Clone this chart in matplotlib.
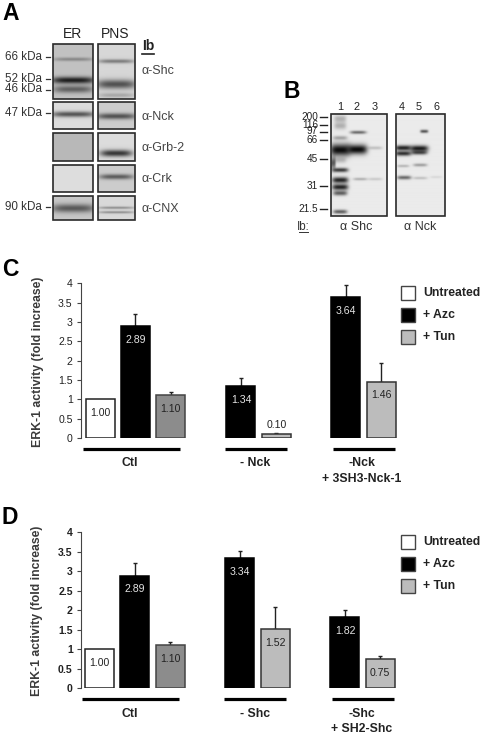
import numpy as np
import matplotlib
matplotlib.use("Agg")
import matplotlib.pyplot as plt
from matplotlib.patches import Rectangle

plt.rcParams['font.family'] = ['Liberation Sans', 'DejaVu Sans']

W, H = 483, 736

# bar values, group by group
groups_c = ["Ctl", "- Nck", "-Nck\n+ 3SH3-Nck-1"]
vals_c = [[1.00, 2.89, 1.10], [1.34, 0.10], [3.64, 1.46]]
tops_c = [[None, 3.20, 1.18], [1.55, 0.12], [3.96, 1.93]]
kinds_c = [["un", "azc", "tun_dark"], ["azc", "tun"], ["azc", "tun"]]

groups_d = ["Ctl", "- Shc", "-Shc\n+ SH2-Shc"]
vals_d = [[1.00, 2.89, 1.10], [3.34, 1.52], [1.82, 0.75]]
tops_d = [[None, 3.20, 1.18], [3.52, 2.08], [2.00, 0.83]]
kinds_d = [["un", "azc", "tun_dark"], ["azc", "tun"], ["azc", "tun"]]

yticks = [0, 0.5, 1, 1.5, 2, 2.5, 3, 3.5, 4]
ytick_labels = ["0", "0.5", "1", "1.5", "2", "2.5", "3", "3.5", "4"]
legend_names = ["Untreated", "+ Azc", "+ Tun"]

fills = {"un": "white", "azc": "black", "tun": "#bcbcbc", "tun_dark": "#8c8c8c"}
edges = {"un": "#222222", "azc": "black", "tun": "#333333", "tun_dark": "#444444"}

# blot rows in panel A: name, kDa labels, ER/PNS background and bands
# band = (x, y, half width, half thickness, strength)
rows_a = [
    ("α-Shc", 44, 99, 0.76, 0.84,
     [(73, 59, 20, 1.8, 0.3), (73, 80, 22, 3.4, 0.85), (73, 89, 20, 3.6, 0.5)],
     [(116, 61, 18, 2.0, 0.42), (116, 84, 20, 4.6, 0.62), (116, 95, 18, 2.4, 0.22)]),
    ("α-Nck", 102, 129, 0.86, 0.80,
     [(73, 114, 22, 2.8, 0.62)],
     [(116, 116, 20, 3.0, 0.6)]),
    ("α-Grb-2", 133, 161, 0.72, 0.86,
     [],
     [(116, 153, 16, 3.4, 0.75)]),
    ("α-Crk", 165, 192, 0.87, 0.80,
     [],
     [(116, 176.5, 17, 2.6, 0.55)]),
    ("α-CNX", 196, 220, 0.78, 0.85,
     [(73, 208, 22, 4.2, 0.55)],
     [(116, 207.5, 18, 1.2, 0.35), (116, 212, 18, 1.2, 0.35)]),
]
kda_names = ["66 kDa", "52 kDa", "46 kDa", "47 kDa", "90 kDa"]
kda_y = [57, 78.5, 89.5, 113, 207]

mw_names = ["200", "116", "97", "66", "45", "31", "21.5"]
mw_y = [116.5, 125, 131.5, 140, 159, 186, 208.5]
lanes = ["1", "2", "3", "4", "5", "6"]
lanes_x = [340, 357, 375, 402, 418.5, 436]

bands_shc = [(340, 150, 10, 6, 0.95), (340, 119, 6, 3.5, 0.25), (340, 126, 6, 3.5, 0.25),
             (340, 138, 7, 2, 0.3), (340, 170, 8, 2.2, 0.75), (340, 180, 8, 3, 0.85),
             (340, 187, 8, 3, 0.85), (340, 193, 7, 2.4, 0.6), (340, 211.5, 7, 2, 0.6),
             (333, 163, 2.5, 6, 0.6), (340, 160, 6, 3, 0.2),
             (357, 149.5, 10, 4.8, 0.95), (358, 132.5, 8, 1.6, 0.55), (360, 179, 7, 1.4, 0.25),
             (375, 148, 7, 1.6, 0.18), (375, 179, 7, 1.4, 0.14)]
bands_nck = [(403, 148, 8, 2.6, 0.85), (403, 153.5, 8, 2.4, 0.8),
             (419, 148.5, 9, 3, 0.88), (419, 152.5, 8, 2.2, 0.7),
             (403, 166, 6, 1.4, 0.22), (420, 165, 7, 1.6, 0.32),
             (404, 177.5, 7, 1.9, 0.55), (420, 178, 7, 1.4, 0.18),
             (424, 131.5, 4, 1.6, 0.65), (436, 177, 6, 1.2, 0.08)]


def blot(ov, x0, y0, x1, y1, bg, bands):
    # gel image on a grid of 1/2 pixel, frame drawn on top
    xs = np.arange(x0, x1, 0.5)
    ys = np.arange(y0, y1, 0.5)
    xx, yy = np.meshgrid(xs, ys)
    img = np.full(xx.shape, float(bg))
    for bx, by, hw, ht, s in bands:
        px = np.exp(-((xx - bx) / hw) ** 4)
        py = np.exp(-((yy - by) / ht) ** 2)
        img = img * (1 - s * px * py)
    ov.imshow(img, cmap="gray", vmin=0, vmax=1, extent=(x0, x1, y1, y0),
              aspect="auto", interpolation="bilinear", zorder=1)
    ov.add_patch(Rectangle((x0, y0), x1 - x0, y1 - y0, fill=False,
                           ec="#2a2a2a", lw=1.2, zorder=2))


def bar_panel(fig, ov, top, zero, groups, vals, error_tops, kinds, starts, bold, legend_y,
              line_y, label_y, line_x, ylab_x):
    ax = fig.add_axes([81 / W, (H - zero) / H, 319 / W, (zero - top) / H])
    step = 35.3
    for g, start in enumerate(starts):
        for i, v in enumerate(vals[g]):
            x = start + i * step
            k = kinds[g][i]
            ax.bar(x, v, width=29, color=fills[k], edgecolor=edges[k], linewidth=1.1, zorder=3)
            if error_tops[g][i] is not None:
                ax.errorbar(x, v, yerr=[[0], [error_tops[g][i] - v]], color="#222222",
                            capsize=1.5, elinewidth=1, capthick=1, zorder=2)
            if v < 0.5:
                ax.annotate(f"{v:.2f}", (x, error_tops[g][i]), xytext=(0, 2.5),
                            textcoords="offset points", ha="center", va="bottom",
                            fontsize=7.6, color="#222222")
            else:
                c = "#e4e4e4" if k == "azc" else "#222222"
                ax.annotate(f"{v:.2f}", (x, v), xytext=(0, -10),
                            textcoords="offset points", ha="center", va="center",
                            fontsize=7.6, color=c, zorder=4)
    ax.set_xlim(0, 319)
    ax.set_ylim(0, 4)
    ax.set_xticks([])
    ax.set_yticks(yticks)
    ax.set_yticklabels(ytick_labels, fontsize=7.6, color="#222222",
                       fontweight="bold" if bold else "normal")
    ax.tick_params(axis="y", length=3, width=0.8, color="#444444", pad=3)
    for s in ["top", "right", "bottom"]:
        ax.spines[s].set_visible(False)
    ax.spines["left"].set_color("#444444")
    ax.spines["left"].set_linewidth(0.8)
    ax.patch.set_alpha(0)

    ov.text(ylab_x, (top + zero) / 2 + 1, "ERK-1 activity (fold increase)", rotation=90,
            ha="center", va="center", fontsize=8.8, color="#3a3a3a", fontweight="bold")

    for (a, b), name, lx in zip(line_x, groups, [130, 255.5, 362]):
        ov.plot([a, b], [line_y, line_y], color="black", lw=2.3, solid_capstyle="butt")
        for j, part in enumerate(name.split("\n")):
            ov.text(lx, label_y + j * 15.5, part, ha="center", va="center",
                    fontsize=8.8, fontweight="bold", color="#222222")

    for name, k, ly in zip(legend_names, ["un", "azc", "tun"], legend_y):
        ov.add_patch(Rectangle((400.7, ly), 14.5, 14, fc=fills[k], ec="#444444", lw=1))
        ov.text(423, ly + 7, name, ha="left", va="center", fontsize=8.8,
                fontweight="bold", color="#222222")


fig = plt.figure(figsize=(W / 100, H / 100), dpi=100)
ov = fig.add_axes([0, 0, 1, 1], zorder=0)

# panel A
for name, y0, y1, bg_er, bg_pns, b_er, b_pns in rows_a:
    blot(ov, 53, y0, 93, y1, bg_er, b_er)
    blot(ov, 98, y0, 135, y1, bg_pns, b_pns)
    ov.text(141, (y0 + y1) / 2 + (1 if name != "α-Shc" else 0), name, fontsize=9,
            color="#444444", va="center", ha="left")
for name, y in zip(kda_names, kda_y):
    ov.text(42, y, name, fontsize=8.4, color="#333333", ha="right", va="center")
    ov.plot([46, 50], [y, y], color="#333333", lw=0.9)
ov.text(72, 34, "ER", fontsize=10, ha="center", va="center", color="#222222")
ov.text(115, 34, "PNS", fontsize=10, ha="center", va="center", color="#222222")
ov.text(148, 46, "Ib", fontsize=10, fontweight="bold", ha="center", va="center", color="#222222")
ov.plot([142, 154], [54, 54], color="#222222", lw=1.2)

# panel B
blot(ov, 331, 113.5, 387, 216, 0.92, bands_shc)
blot(ov, 396, 113.5, 445, 216, 0.92, bands_nck)
for name, x in zip(lanes, lanes_x):
    ov.text(x, 107, name, fontsize=7.8, ha="center", va="center", color="#222222")
for name, y in zip(mw_names, mw_y):
    ov.text(318, y, name, fontsize=7.2, ha="right", va="center", color="#222222")
    ov.plot([320, 327], [y, y], color="#222222", lw=1)
ov.text(303.5, 226.5, "Ib:", fontsize=8.4, ha="center", va="center", color="#333333")
ov.plot([303.5 - 5, 303.5 + 4], [232, 232], color="#333333", lw=0.7)
ov.text(356.5, 226.5, "α Shc", fontsize=9, ha="center", va="center", color="#333333")
ov.text(420, 226.5, "α Nck", fontsize=9, ha="center", va="center", color="#333333")

# panels C and D
bar_panel(fig, ov, 283.3, 438, groups_c, vals_c, tops_c, kinds_c, [19, 160, 265], False,
          [285.7, 307.7, 330], 449, 463, [(83, 180), (225, 287), (333, 395)], 38)
bar_panel(fig, ov, 532.3, 688, groups_d, vals_d, tops_d, kinds_d, [18.5, 159, 264], True,
          [535, 556.7, 579], 699.3, 714, [(82, 179), (224, 286), (332, 394)], 37)

for letter, x, y in [("A", 11, 14), ("B", 291.5, 91), ("C", 10, 270), ("D", 10, 518)]:
    ov.text(x, y, letter, fontsize=16.5, fontweight="bold", ha="center", va="center", color="black")

ov.set_xlim(0, W)
ov.set_ylim(H, 0)
ov.axis("off")

fig.savefig("out.png", dpi=100)
